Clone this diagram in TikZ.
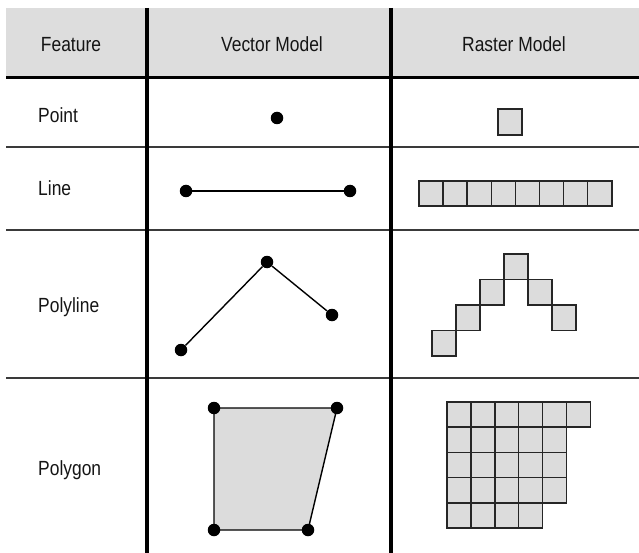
\documentclass[tikz,border=0pt]{standalone}
\usepackage{fontspec}
\setmainfont{Liberation Sans}[FakeStretch=0.85]
\definecolor{hdr}{HTML}{DDDDDD}
\definecolor{cellfill}{HTML}{DCDCDC}
\definecolor{txt}{HTML}{151515}
\definecolor{rule}{HTML}{3A3A3A}
\tikzset{
  lbl/.style={font=\fontsize{20.5}{23}\selectfont, text=txt, inner sep=0pt},
  dot/.style={circle, fill=black, inner sep=0pt, minimum size=12.5pt},
  vline/.style={line width=1.4pt, black},
  cell/.style={draw=black!85, line width=1.5pt, fill=cellfill},
  thinrule/.style={line width=1.8pt, rule},
}
\begin{document}
\begin{tikzpicture}[x=1pt,y=-1pt]
\useasboundingbox (0,0) rectangle (639,553);
% header band
\fill[hdr] (6,8) rectangle (639,76);
% rules
\draw[line width=3.2pt, black] (6,77.5) -- (639,77.5);
\draw[thinrule] (6,147) -- (639,147);
\draw[thinrule] (6,230) -- (639,230);
\draw[thinrule] (6,378) -- (639,378);
\draw[line width=4pt, black] (147,8) -- (147,553);
\draw[line width=4pt, black] (391,8) -- (391,553);
% header texts
\node[lbl, anchor=base] (hf) at (71,52) {Feature};
\node[lbl, anchor=base] (hv) at (272,52) {Vector Model};
\node[lbl, anchor=base] (hr) at (514,52) {Raster Model};
% row labels
\node[lbl, anchor=base west] (lp) at (38,123) {Point};
\node[lbl, anchor=base west] (ll) at (38,196) {Line};
\node[lbl, anchor=base west] (lpl) at (38,312) {Polyline};
\node[lbl, anchor=base west] (lpg) at (38,475) {Polygon};
% vector: point
\node[dot] (p1) at (277,118) {};
% vector: line
\node[dot] (l1) at (186,191) {};
\node[dot] (l2) at (350,191) {};
\draw[vline] (l1) -- (l2);
% vector: polyline
\node[dot] (q1) at (181,350) {};
\node[dot] (q2) at (267,262) {};
\node[dot] (q3) at (332,315) {};
\draw[vline] (q1) -- (q2) -- (q3);
% vector: polygon
\coordinate (g1) at (214,408);
\coordinate (g2) at (337,408);
\coordinate (g3) at (308,530);
\coordinate (g4) at (214,530);
\draw[vline, fill=cellfill] (g1) -- (g2) -- (g3) -- (g4) -- cycle;
\node[dot] (d1) at (g1) {};
\node[dot] (d2) at (g2) {};
\node[dot] (d3) at (g3) {};
\node[dot] (d4) at (g4) {};
% raster: point
\draw[cell] (498,109) rectangle ++(24,26);
% raster: line
\foreach \i in {0,...,7}
  \draw[cell] ({419+24.1*\i},181) rectangle ++(24.1,25);
% raster: polyline
\foreach \x/\y in {432/330.5,456/305.2,480/279.6,504/254,528/279.6,552/305.2}
  \draw[cell] (\x,\y) rectangle ++(24,25.3);
% raster: polygon
\foreach \r/\n in {0/5,1/4,2/4,3/4,4/3}
  \foreach \c in {0,...,\n}
    \draw[cell] ({447+23.9*\c},{402+25.2*\r}) rectangle ++(23.9,25.2);
\end{tikzpicture}
\end{document}
